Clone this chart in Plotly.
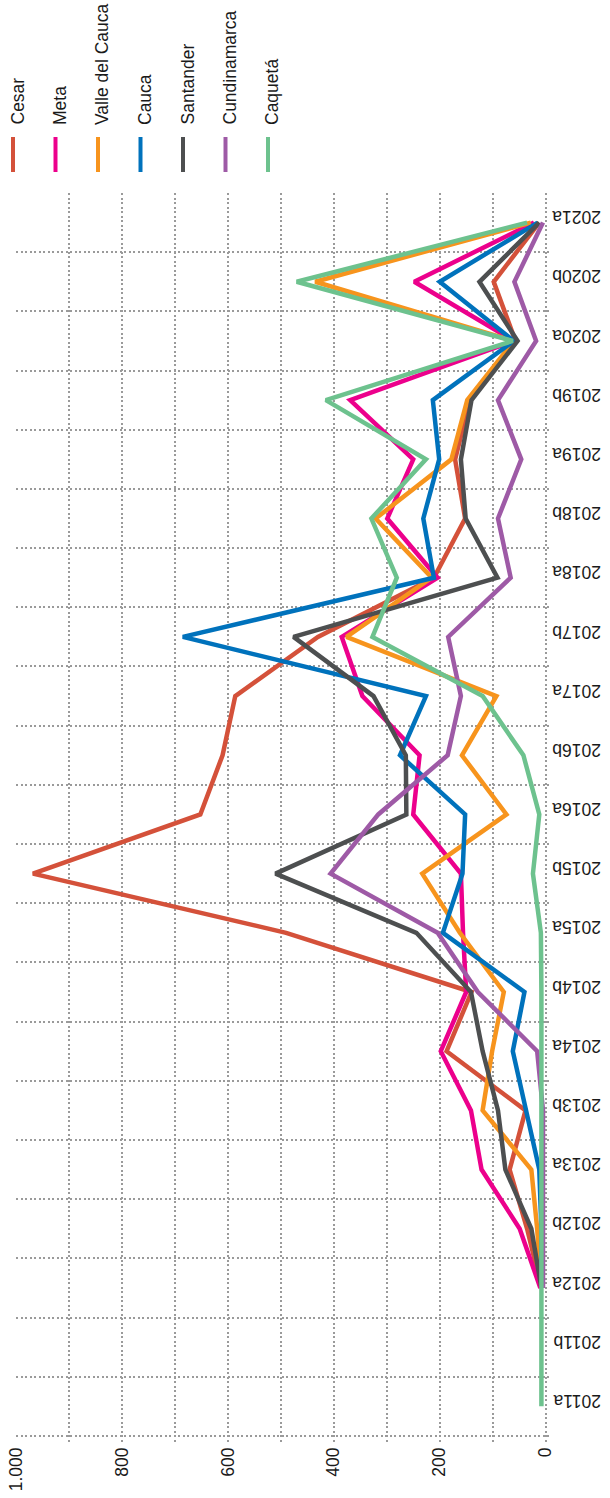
import plotly.graph_objects as go

categories = ["2011a", "2011b", "2012a", "2012b", "2013a", "2013b", "2014a", "2014b",
              "2015a", "2015b", "2016a", "2016b", "2017a", "2017b", "2018a", "2018b",
              "2019a", "2019b", "2020a", "2020b", "2021a"]

cesar = [None, None, 8, 35, 68, 38, 187, 140, 490, 968, 652, 610, 586, 430, 211, 152, 171, 143, 57, 98, 12]
meta = [None, None, 10, 49, 121, 141, 198, 150, 156, 160, 250, 238, 346, 385, 204, 299, 250, 369, 60, 248, 22]
valle = [None, None, 8, 16, 27, 119, 101, 79, 162, 233, 74, 158, 93, 376, 215, 321, 178, 148, 60, 435, 28]
cauca = [None, None, 8, 8, 12, 38, 62, 40, 194, 157, 152, 275, 226, 685, 211, 231, 201, 213, 60, 200, 15]
santander = [None, None, 8, 27, 76, 90, 119, 141, 244, 510, 263, 264, 325, 476, 91, 151, 160, 140, 53, 125, 12]
cundinamarca = [None, None, 5, 5, 5, 5, 16, 128, 204, 406, 316, 185, 160, 184, 66, 90, 46, 90, 18, 59, 5]
caqueta = [8, 8, 8, 8, 6, 6, 6, 8, 9, 24, 12, 42, 119, 327, 281, 329, 226, 415, 62, 470, 35]

series_names = ["Cesar", "Meta", "Valle del Cauca", "Cauca", "Santander", "Cundinamarca", "Caquetá"]
series_values = [cesar, meta, valle, cauca, santander, cundinamarca, caqueta]
series_colors = ["#d4513a", "#ec008c", "#f7941d", "#0072bc", "#4d4f50", "#9e5aa6", "#6dc28e"]

value_ticks = [0, 200, 400, 600, 800, 1000]

FONT = "Liberation Sans, Arial, sans-serif"
W, H = 610, 1498
ML, MR, MT, MB = 16, 58, 193, 55
PW = W - ML - MR
PH = H - MT - MB

fig = go.Figure()
for name, vals, col in zip(series_names, series_values, series_colors):
    fig.add_trace(go.Scatter(
        x=vals, y=categories, mode="lines", name=name,
        line=dict(color=col, width=4.5),
        hoverinfo="skip",
    ))

grid = dict(gridcolor="#9a9a9a", griddash="2px,2.5px", gridwidth=1.6)

fig.update_layout(
    width=W, height=H,
    margin=dict(l=ML, r=MR, t=MT, b=MB, autoexpand=False),
    plot_bgcolor="white", paper_bgcolor="white",
    showlegend=False,
    separators=",.",
    font=dict(family=FONT, size=17.5, color="#1a1a1a"),
    xaxis=dict(
        range=[1000, -12],
        tickmode="array", tickvals=value_ticks,
        separatethousands=True,
        tickangle=-90,
        automargin=False,
        ticklabeloverflow="allow",
        showgrid=True, **grid,
        minor=dict(tick0=0, dtick=100, showgrid=True, **grid),
        zeroline=False, showline=False, ticks="",
        tickfont=dict(family=FONT, size=17.5, color="#1a1a1a"),
    ),
    yaxis=dict(
        type="category",
        categoryorder="array", categoryarray=categories,
        range=[-0.62, 20.5],
        side="right",
        tickson="boundaries",
        tickangle=180,
        automargin=False,
        ticklabelstandoff=48,
        ticklabeloverflow="allow",
        showgrid=True, **grid,
        zeroline=False, showline=False, ticks="",
        tickfont=dict(family=FONT, size=17.5, color="#1a1a1a"),
    ),
)

# Rotated legend (text reads bottom-to-top) above the plot
for i, (name, col) in enumerate(zip(series_names, series_colors)):
    sx = 13 + 42.5 * i
    px = (sx - ML) / PW
    fig.add_shape(type="line", xref="paper", yref="paper",
                  x0=px, x1=px,
                  y0=(H - MB - 172) / PH, y1=(H - MB - 137) / PH,
                  line=dict(color=col, width=4))
    fig.add_annotation(xref="paper", yref="paper",
                       x=(sx + 4 - ML) / PW, y=(H - MB - 127) / PH,
                       text=name, showarrow=False, textangle=-90,
                       xanchor="center", yanchor="bottom",
                       font=dict(family=FONT, size=17.5, color="#1a1a1a"))

fig.write_html(
    "out.html",
    config={"displayModeBar": False},
    post_script="document.body.style.margin='0';document.body.style.padding='0';",
)
